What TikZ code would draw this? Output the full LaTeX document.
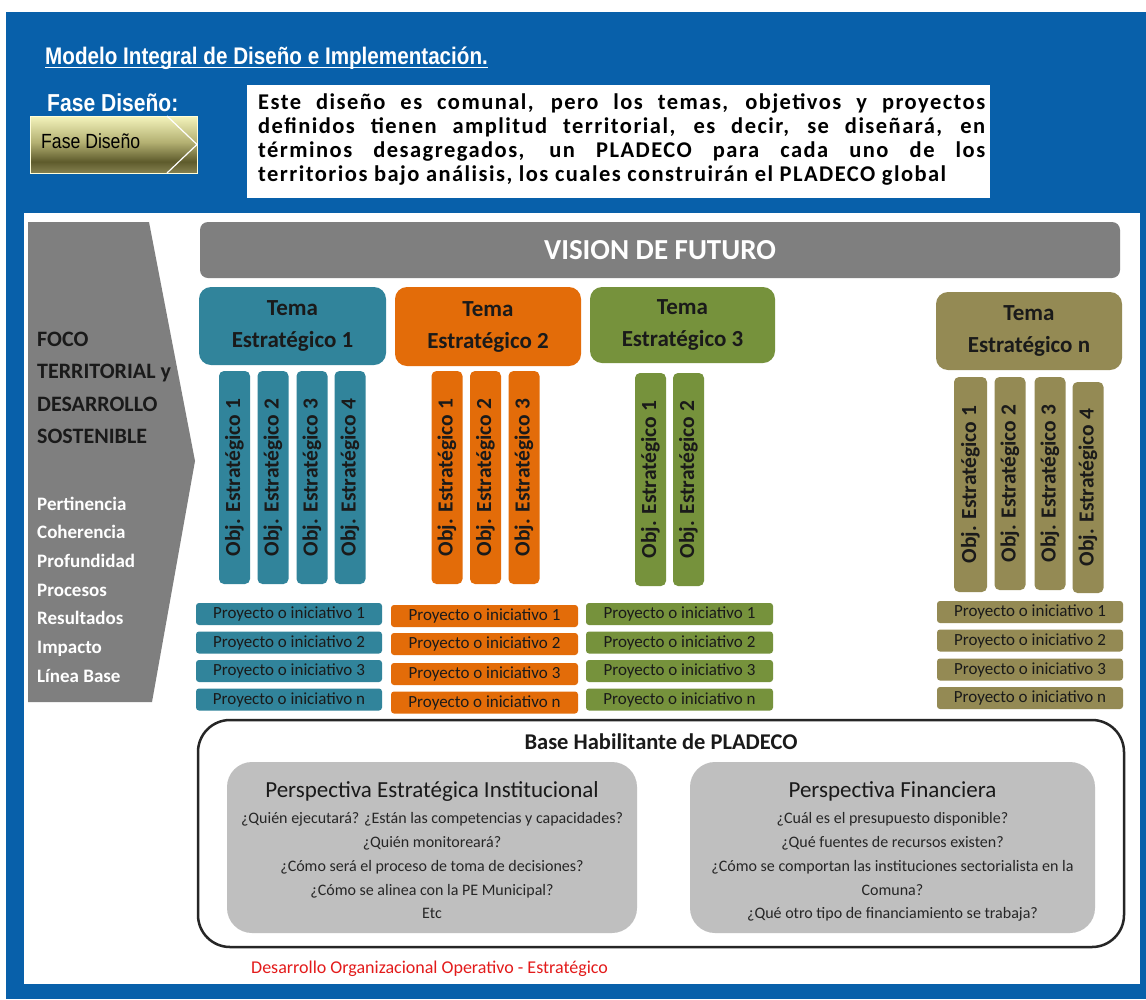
\documentclass[tikz,border=0pt]{standalone}
\usepackage{fontspec}
\setmainfont{Carlito}
\newfontfamily\narrowf[FakeStretch=0.86]{Liberation Sans}
\newfontfamily\spacedf[LetterSpace=6.5]{Carlito}
\definecolor{bgblue}{HTML}{0860AA}
\definecolor{cteal}{HTML}{31849B}
\definecolor{corange}{HTML}{E36C09}
\definecolor{cgreen}{HTML}{76923C}
\definecolor{colive}{HTML}{948A54}
\definecolor{cgray}{HTML}{7F7F7F}
\definecolor{clight}{HTML}{BFBFBF}
\definecolor{ink}{HTML}{1A1A1A}
\definecolor{qink}{HTML}{262626}
\definecolor{cred}{HTML}{E31B1B}
\definecolor{fT}{HTML}{F4F4BC}
\definecolor{fM}{HTML}{B3B072}
\definecolor{fD}{HTML}{5E5B2C}
\definecolor{fB}{HTML}{858150}
\pgfdeclareverticalshading{fasesh}{100bp}{color(0bp)=(fB); color(25bp)=(fB); color(35bp)=(fD); color(52bp)=(fM); color(75bp)=(fT); color(100bp)=(fT)}
\tikzset{
  tema/.style={rounded corners=12pt, inner sep=0pt, align=center, text=ink,
    font={\fontsize{23}{32}\selectfont\bfseries}},
  obj/.style={rotate=90, rounded corners=5pt, inner sep=0pt, text=ink,
    font={\bfseries\fontsize{21.5}{24}\selectfont}},
  proj/.style={rounded corners=3pt, inner sep=0pt, minimum height=22pt, text=ink,
    font={\fontsize{17}{19}\selectfont}},
  txt/.style={inner sep=0pt},
  focotxt/.style={txt, anchor=base west, text=ink, font={\fontsize{22}{26}\selectfont\bfseries}},
  listtxt/.style={txt, anchor=base west, text=white, font={\fontsize{19}{22}\selectfont\bfseries}},
  intro/.style={txt, anchor=base west, text=black, font={\spacedf\bfseries\fontsize{22.5}{24}\selectfont}},
  qtxt/.style={txt, anchor=base, text=qink, font={\fontsize{16}{18}\selectfont}},
  ptitle/.style={txt, anchor=base, text=ink, font={\fontsize{23}{26}\selectfont}},
  persp/.style={fill=clight, rounded corners=25pt},
}
\begin{document}
\begin{tikzpicture}[x=1pt,y=-1pt]
\useasboundingbox (0,0) rectangle (1146,999);
\fill[white] (0,0) rectangle (1146,999);
\fill[bgblue] (6,12) rectangle (1146,999);
% header
\node[txt, anchor=base west, text=white, font={\narrowf\bfseries\fontsize{24}{28}\selectfont}] (title) at (45,64) {Modelo Integral de Diseño e Implementación.};
\draw[white, line width=1.5pt] ([yshift=-3.5pt]title.base west) -- ([yshift=-3.5pt]title.base east);
\node[txt, anchor=base west, text=white, font={\narrowf\bfseries\fontsize{24.5}{26}\selectfont}] (fase) at (47,111) {Fase Diseño:};
\shade[shading=fasesh] (30,116) rectangle (197,173);
\draw[white!85!yellow, line width=0.8pt] (30,116) rectangle (197,173);
\draw[white, line width=1.2pt] (167,116) -- (197,144.5) -- (167,173);
\node[txt, anchor=base west, text=black, font={\narrowf\fontsize{20.5}{22}\selectfont}] (fasebox) at (41,148) {Fase Diseño};
% intro text box
\fill[white] (247,85) rectangle (990,198);
\node[intro] (l1) at (258,109) {\makebox[727pt][s]{Este diseño es comunal, pero los temas, objetivos y proyectos}};
\node[intro] (l2) at (258,133) {\makebox[727pt][s]{definidos tienen amplitud territorial, es decir, se diseñará, en}};
\node[intro] (l3) at (258,157) {\makebox[727pt][s]{términos desagregados, un PLADECO para cada uno de los}};
\node[intro] (l4) at (258,181) {territorios bajo análisis, los cuales construirán el PLADECO global};
% white panel
\fill[white] (24,213) rectangle (1140,984);
% grey arrow
\fill[cgray] (28,222) -- (149,222) -- (195,461) -- (152,702) -- (28,702) -- cycle;
\node[focotxt] (f1) at (37,346) {FOCO};
\node[focotxt] (f2) at (37,378.5) {TERRITORIAL y};
\node[focotxt] (f3) at (37,411) {DESARROLLO};
\node[focotxt] (f4) at (37,443.5) {SOSTENIBLE};
\node[listtxt] (p1) at (37,510) {Pertinencia};
\node[listtxt] (p2) at (37,538.7) {Coherencia};
\node[listtxt] (p3) at (37,567.4) {Profundidad};
\node[listtxt] (p4) at (37,596) {Procesos};
\node[listtxt] (p5) at (37,624.8) {Resultados};
\node[listtxt] (p6) at (37,653.5) {Impacto};
\node[listtxt] (p7) at (37,682) {Línea Base};
% vision
\node[fill=cgray, rounded corners=8pt, minimum width=920pt, minimum height=56pt, inner sep=0pt, text=white, font={\fontsize{29}{32}\selectfont\bfseries}] (vision) at (660,250) {VISION DE FUTURO};
% temas
\node[tema, fill=cteal, minimum width=187pt, minimum height=78pt] (t1) at (292.5,326) {Tema\\Estratégico 1};
\node[tema, fill=corange, minimum width=186pt, minimum height=79pt] (t2) at (488,326.5) {Tema\\Estratégico 2};
\node[tema, fill=cgreen, minimum width=185pt, minimum height=76pt] (t3) at (682.5,325) {Tema\\Estratégico 3};
\node[tema, fill=colive, minimum width=186pt, minimum height=78pt] (tn) at (1029,331) {Tema\\Estratégico n};
% objetivos
\foreach \x/\k in {234.5/1,273/2,312/3,350/4}
  \node[obj, fill=cteal, minimum width=213pt, minimum height=31pt] (o1\k) at (\x,477.5) {Obj. Estratégico \k};
\foreach \x/\k in {447/1,485.5/2,524/3}
  \node[obj, fill=corange, minimum width=213pt, minimum height=31pt] (o2\k) at (\x,477.5) {Obj. Estratégico \k};
\foreach \x/\k in {650.5/1,688.5/2}
  \node[obj, fill=cgreen, minimum width=213pt, minimum height=31pt] (o3\k) at (\x,479.5) {Obj. Estratégico \k};
\node[obj, fill=colive, minimum width=215pt, minimum height=33pt] (on1) at (970.5,484.5) {Obj. Estratégico 1};
\node[obj, fill=colive, minimum width=213pt, minimum height=31pt] (on2) at (1010,483.5) {Obj. Estratégico 2};
\node[obj, fill=colive, minimum width=213pt, minimum height=31pt] (on3) at (1050,483.5) {Obj. Estratégico 3};
\node[obj, fill=colive, minimum width=211pt, minimum height=31pt] (on4) at (1088,487.5) {Obj. Estratégico 4};
% proyectos
\foreach \y/\k in {614/1,642.5/2,671/3,699.5/n}
  \node[proj, fill=cteal, minimum width=186pt] (r1\k) at (289,\y) {Proyecto o iniciativo \k};
\foreach \y/\k in {616/1,644/2,674/3,702.5/n}
  \node[proj, fill=corange, minimum width=187pt] (r2\k) at (484.5,\y) {Proyecto o iniciativo \k};
\foreach \y/\k in {614/1,642.5/2,671/3,699.5/n}
  \node[proj, fill=cgreen, minimum width=187pt] (r3\k) at (679.5,\y) {Proyecto o iniciativo \k};
\foreach \y/\k in {612/1,640.5/2,669.5/3,698/n}
  \node[proj, fill=colive, minimum width=186pt] (rn\k) at (1030,\y) {Proyecto o iniciativo \k};
% base habilitante
\draw[draw=black!85, line width=2.5pt, rounded corners=32pt] (198,720) rectangle (1124,947);
\node[txt, anchor=base, text=ink, font={\fontsize{22.5}{24}\selectfont\bfseries}] (base) at (661,749) {Base Habilitante de PLADECO};
\fill[persp] (227,762) rectangle (637,933);
\fill[persp] (690,762) rectangle (1095,933);
\node[ptitle] (pe) at (432,797) {Perspectiva Estratégica Institucional};
\node[qtxt] (q1) at (432,823) {¿Quién ejecutará? ¿Están las competencias y capacidades?};
\node[qtxt] (q2) at (432,847) {¿Quién monitoreará?};
\node[qtxt] (q3) at (432,871) {¿Cómo será el proceso de toma de decisiones?};
\node[qtxt] (q4) at (432,895) {¿Cómo se alinea con la PE Municipal?};
\node[qtxt] (q5) at (432,918) {Etc};
\node[ptitle] (pf) at (892.5,797) {Perspectiva Financiera};
\node[qtxt] (s1) at (892.5,823) {¿Cuál es el presupuesto disponible?};
\node[qtxt] (s2) at (892.5,847) {¿Qué fuentes de recursos existen?};
\node[qtxt] (s3) at (892.5,871) {¿Cómo se comportan las instituciones sectorialista en la};
\node[qtxt] (s4) at (892.5,895) {Comuna?};
\node[qtxt] (s5) at (892.5,918) {¿Qué otro tipo de financiamiento se trabaja?};
\node[txt, anchor=base west, text=cred, font={\fontsize{18}{20}\selectfont}] (red) at (251,973) {Desarrollo Organizacional Operativo - Estratégico};
\end{tikzpicture}
\end{document}
